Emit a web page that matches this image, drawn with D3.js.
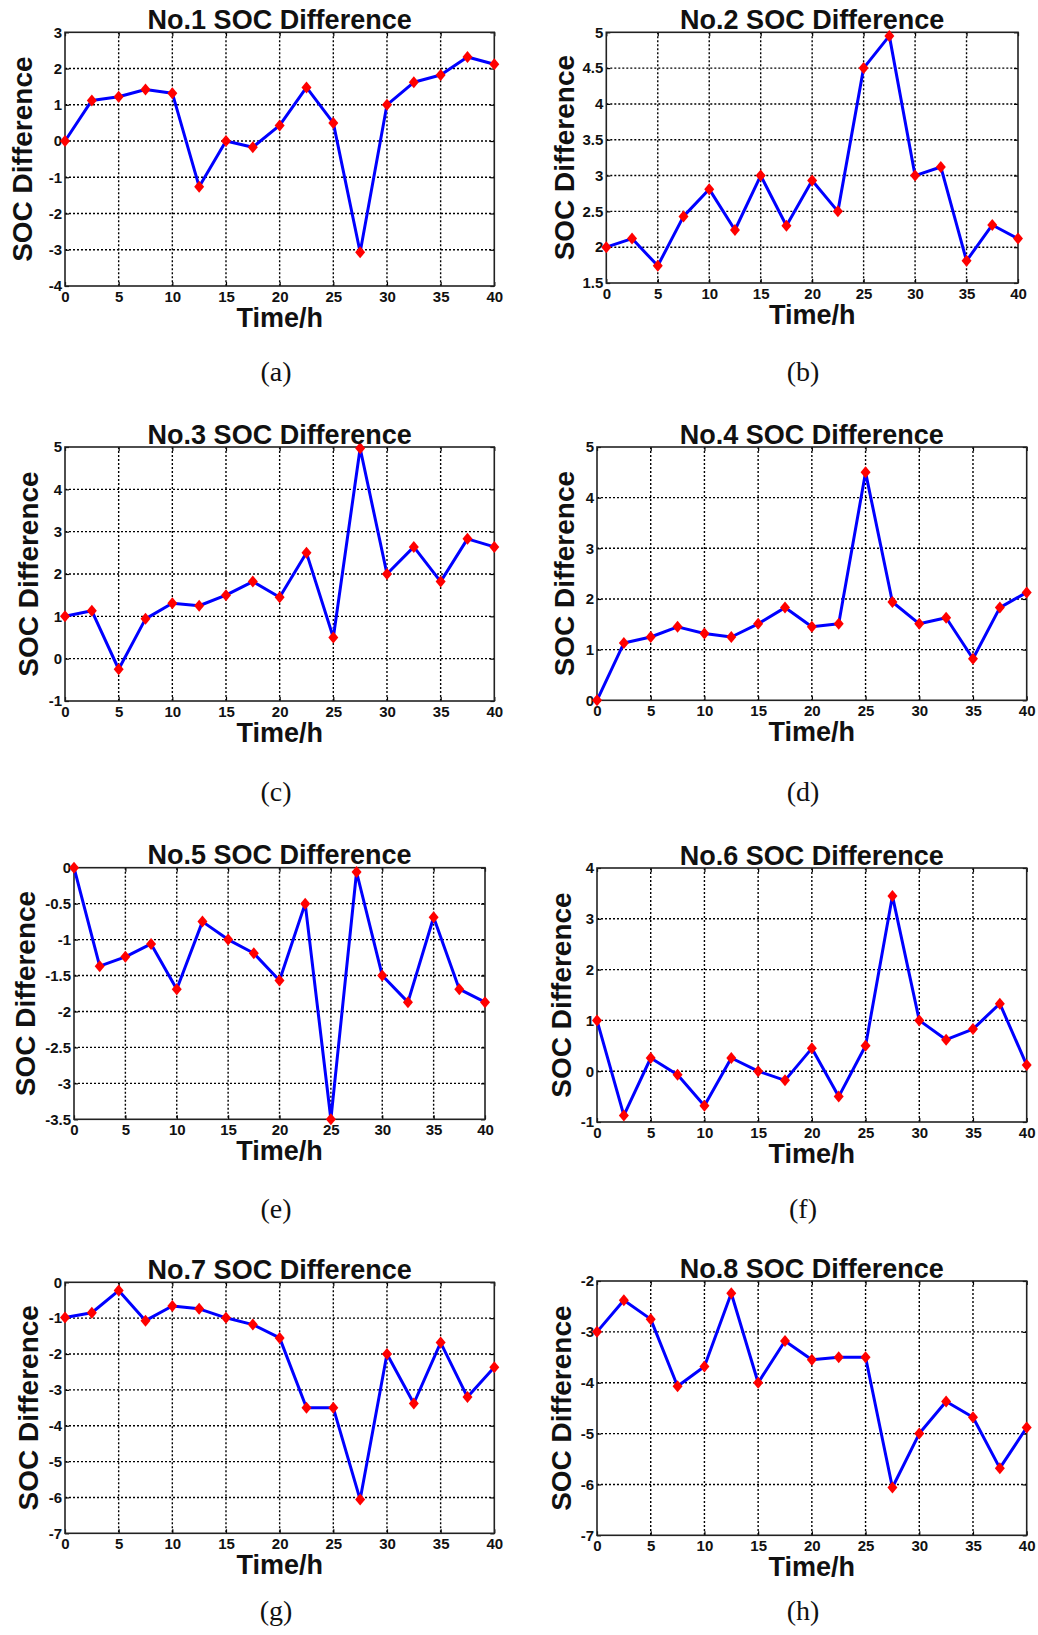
<!DOCTYPE html>
<html>
<head>
<meta charset="utf-8">
<script src="https://cdn.jsdelivr.net/npm/d3@7"></script>
<style>
  html, body { margin: 0; padding: 0; background: #fff; }
  svg { display: block; }
</style>
</head>
<body>
<svg id="chart" width="1038" height="1635"></svg>
<script>
// Sampling times (hours)
const times = [0, 2.5, 5, 7.5, 10, 12.5, 15, 17.5, 20, 22.5, 25, 27.5, 30, 32.5, 35, 37.5, 40];
const xTicks = [0, 5, 10, 15, 20, 25, 30, 35, 40];

// SOC difference of each cell
const soc1 = [0, 1.12, 1.22, 1.42, 1.32, -1.26, 0, -0.17, 0.43, 1.48, 0.5, -3.07, 1.0, 1.62, 1.82, 2.32, 2.12];
const soc2 = [2.0, 2.12, 1.74, 2.43, 2.81, 2.24, 3.0, 2.3, 2.93, 2.5, 4.5, 4.95, 3.0, 3.12, 1.81, 2.31, 2.12];
const soc3 = [1.0, 1.13, -0.25, 0.94, 1.31, 1.25, 1.5, 1.82, 1.45, 2.5, 0.5, 4.97, 2.0, 2.64, 1.82, 2.83, 2.64];
const soc4 = [0, 1.13, 1.25, 1.45, 1.32, 1.25, 1.51, 1.83, 1.45, 1.51, 4.5, 1.94, 1.51, 1.63, 0.82, 1.83, 2.13];
const soc5 = [0, -1.37, -1.24, -1.06, -1.69, -0.75, -1.0, -1.19, -1.57, -0.5, -3.5, -0.06, -1.5, -1.87, -0.69, -1.69, -1.87];
const soc6 = [1.0, -0.87, 0.26, -0.07, -0.68, 0.26, 0, -0.18, 0.45, -0.5, 0.5, 3.45, 1.0, 0.62, 0.83, 1.33, 0.12];
const soc7 = [-0.98, -0.85, -0.23, -1.07, -0.66, -0.74, -0.99, -1.18, -1.55, -3.5, -3.5, -6.06, -2.0, -3.38, -1.68, -3.2, -2.37];
const soc8 = [-3.0, -2.38, -2.75, -4.07, -3.68, -2.24, -4.0, -3.18, -3.55, -3.5, -3.5, -6.06, -5.0, -4.37, -4.68, -5.68, -4.88];

// Y tick values of each panel
const yTicks1 = [-4, -3, -2, -1, 0, 1, 2, 3];
const yTicks2 = [1.5, 2, 2.5, 3, 3.5, 4, 4.5, 5];
const yTicks3 = [-1, 0, 1, 2, 3, 4, 5];
const yTicks4 = [0, 1, 2, 3, 4, 5];
const yTicks5 = [-3.5, -3, -2.5, -2, -1.5, -1, -0.5, 0];
const yTicks6 = [-1, 0, 1, 2, 3, 4];
const yTicks7 = [-7, -6, -5, -4, -3, -2, -1, 0];
const yTicks8 = [-7, -6, -5, -4, -3, -2];

const titles = ["No.1 SOC Difference", "No.2 SOC Difference", "No.3 SOC Difference", "No.4 SOC Difference",
                "No.5 SOC Difference", "No.6 SOC Difference", "No.7 SOC Difference", "No.8 SOC Difference"];
const subLabels = ["(a)", "(b)", "(c)", "(d)", "(e)", "(f)", "(g)", "(h)"];
const xTitle = "Time/h";
const yTitle = "SOC Difference";

const series = [soc1, soc2, soc3, soc4, soc5, soc6, soc7, soc8];
const yTickSets = [yTicks1, yTicks2, yTicks3, yTicks4, yTicks5, yTicks6, yTicks7, yTicks8];

// Plot frames [left, top, right, bottom], y-title offset, caption position
const layout = [
  { box: [65, 32.3, 494.3, 286],      yOff: 33, cap: [276, 381] },
  { box: [606.3, 32.3, 1018, 283],    yOff: 32, cap: [803, 381] },
  { box: [65, 447, 494.3, 701],       yOff: 27, cap: [276, 801] },
  { box: [597, 447, 1026.7, 700.3],   yOff: 23, cap: [803, 801] },
  { box: [74, 867.7, 485, 1119.3],    yOff: 39, cap: [276, 1218] },
  { box: [597, 868, 1026.7, 1122],    yOff: 26, cap: [803, 1218] },
  { box: [65, 1282.3, 494.3, 1533.3], yOff: 27, cap: [276, 1620] },
  { box: [597, 1281, 1026.7, 1535.3], yOff: 26, cap: [803, 1620] }
];

const svg = d3.select("#chart");
const sans = "'Liberation Sans', Arial, Helvetica, sans-serif";
const serif = "'Liberation Serif', 'Times New Roman', serif";
const fmt = v => String(v);
const diamond = "M0,-6L5,0L0,6L-5,0Z";

series.forEach((vals, i) => {
  const [L, T, R, B] = layout[i].box;
  const ticks = yTickSets[i];
  const x = d3.scaleLinear().domain([0, 40]).range([L, R]);
  const y = d3.scaleLinear().domain([d3.min(ticks), d3.max(ticks)]).range([B, T]);
  const g = svg.append("g");

  // dotted grid
  g.append("g").selectAll("line").data(xTicks.slice(1, -1)).join("line")
    .attr("x1", d => x(d)).attr("x2", d => x(d)).attr("y1", T).attr("y2", B)
    .attr("stroke", "#000").attr("stroke-width", 1.4).attr("stroke-dasharray", "2,2");
  g.append("g").selectAll("line").data(ticks.slice(1, -1)).join("line")
    .attr("y1", d => y(d)).attr("y2", d => y(d)).attr("x1", L).attr("x2", R)
    .attr("stroke", "#000").attr("stroke-width", 1.4).attr("stroke-dasharray", "2,2");

  // axes with inward ticks
  g.append("g").attr("transform", `translate(0,${B})`)
    .call(d3.axisBottom(x).tickValues(xTicks).tickFormat(fmt).tickSizeInner(-4).tickSizeOuter(0).tickPadding(5));
  g.append("g").attr("transform", `translate(${L},0)`)
    .call(d3.axisLeft(y).tickValues(ticks).tickFormat(fmt).tickSizeInner(-4).tickSizeOuter(0).tickPadding(3));
  g.append("g").attr("transform", `translate(0,${T})`)
    .call(d3.axisTop(x).tickValues(xTicks).tickFormat("").tickSizeInner(-4).tickSizeOuter(0));
  g.append("g").attr("transform", `translate(${R},0)`)
    .call(d3.axisRight(y).tickValues(ticks).tickFormat("").tickSizeInner(-4).tickSizeOuter(0));
  g.selectAll(".domain").remove();
  g.selectAll(".tick line").attr("stroke", "#000").attr("stroke-width", 1.2);
  g.selectAll(".tick text")
    .style("font-family", sans).style("font-weight", "bold").style("font-size", "15px")
    .style("fill", "#111");

  // frame
  g.append("rect").attr("x", L).attr("y", T).attr("width", R - L).attr("height", B - T)
    .attr("fill", "none").attr("stroke", "#222").attr("stroke-width", 1.6);

  // series line and markers
  const line = d3.line().x((d, k) => x(times[k])).y(d => y(d));
  g.append("path").datum(vals).attr("d", line)
    .attr("fill", "none").attr("stroke", "#0000ff").attr("stroke-width", 3)
    .attr("stroke-linejoin", "round");
  g.append("g").selectAll("path").data(vals).join("path")
    .attr("d", diamond)
    .attr("transform", (d, k) => `translate(${x(times[k])},${y(d)})`)
    .attr("fill", "#ff0000");

  // titles
  g.append("text").attr("x", (L + R) / 2).attr("y", T - 3.5)
    .attr("text-anchor", "middle")
    .style("font-family", sans).style("font-weight", "bold").style("font-size", "27px")
    .attr("fill", "#111").text(titles[i]);
  g.append("text").attr("x", (L + R) / 2).attr("y", B + 41)
    .attr("text-anchor", "middle")
    .style("font-family", sans).style("font-weight", "bold").style("font-size", "27px")
    .attr("fill", "#111").text(xTitle);
  g.append("text")
    .attr("transform", `translate(${L - layout[i].yOff},${(T + B) / 2}) rotate(-90)`)
    .attr("text-anchor", "middle")
    .style("font-family", sans).style("font-weight", "bold").style("font-size", "28px")
    .attr("fill", "#111").text(yTitle);

  // caption
  g.append("text").attr("x", layout[i].cap[0]).attr("y", layout[i].cap[1])
    .attr("text-anchor", "middle")
    .style("font-family", serif).style("font-size", "28px")
    .attr("fill", "#111").text(subLabels[i]);
});
</script>
</body>
</html>
